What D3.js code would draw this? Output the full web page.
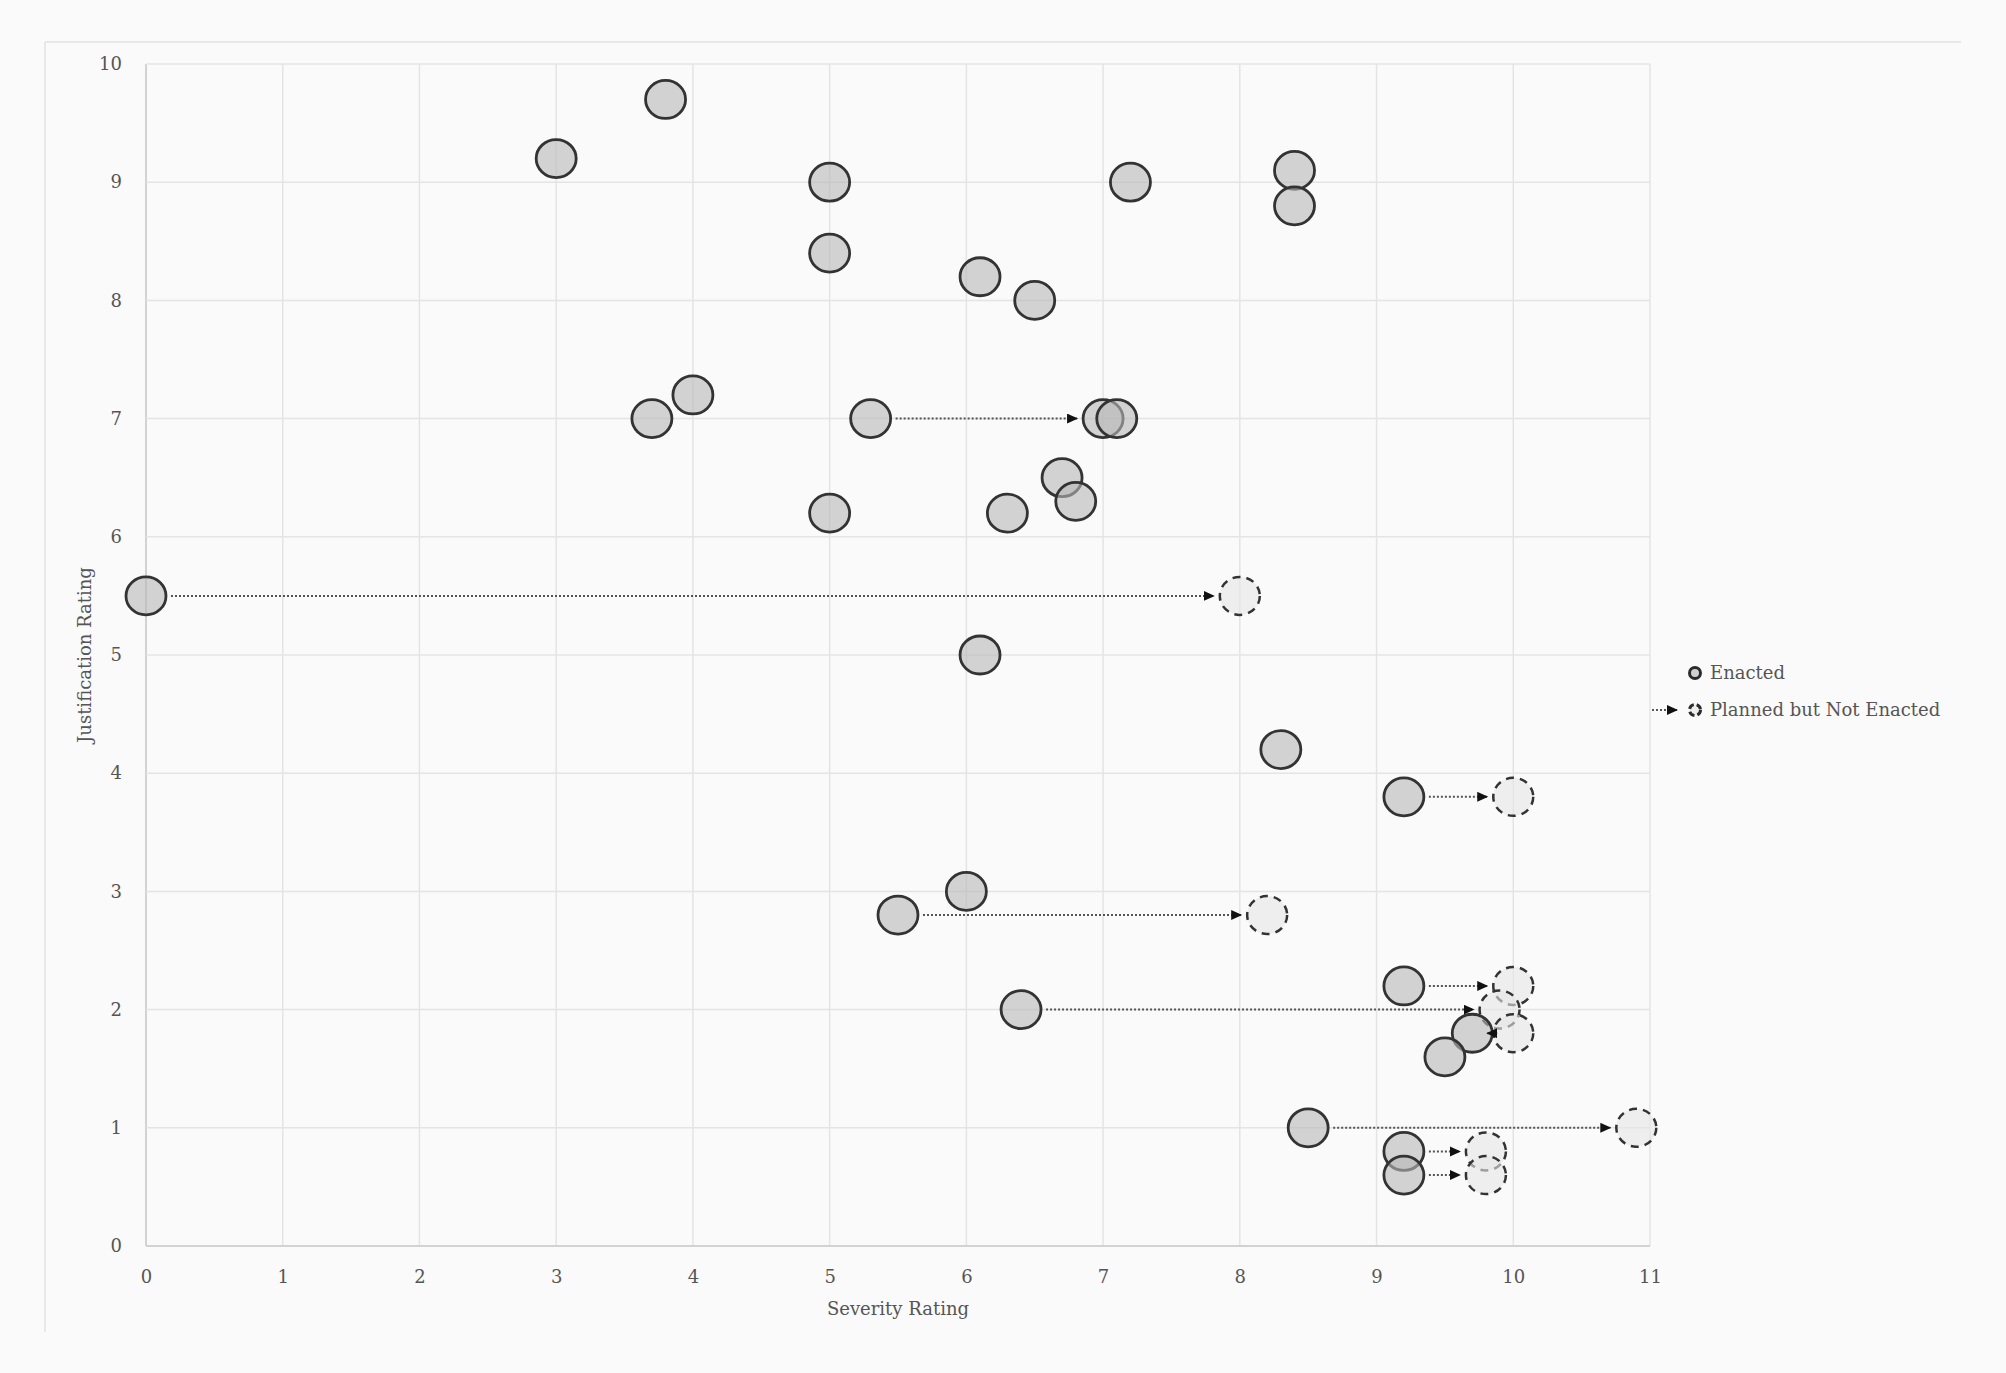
<!DOCTYPE html>
<html lang="en">
<head>
<meta charset="UTF-8">
<title>Severity vs Justification</title>
<script src="https://d3js.org/d3.v7.min.js"></script>
<style>
  body { margin: 0; background: #fafafa; }
  text { font-family: "DejaVu Serif", "Liberation Serif", serif; }
</style>
</head>
<body>
<div class="canvas"></div>
<script>
  // enacted measures
  const severity = [3.8, 3.0, 5.0, 7.2, 8.4, 8.4, 5.0, 6.1, 6.5, 4.0, 3.7, 5.3, 7.0, 7.1, 6.7, 6.8, 5.0, 6.3,
                    0.0, 6.1, 8.3, 9.2, 6.0, 5.5, 9.2, 6.4, 9.7, 9.5, 8.5, 9.2, 9.2]
  const justification = [9.7, 9.2, 9.0, 9.0, 9.1, 8.8, 8.4, 8.2, 8.0, 7.2, 7.0, 7.0, 7.0, 7.0, 6.5, 6.3, 6.2, 6.2,
                         5.5, 5.0, 4.2, 3.8, 3.0, 2.8, 2.2, 2.0, 1.8, 1.6, 1.0, 0.8, 0.6]

  // planned but not enacted
  const plannedSeverity = [8.0, 10.0, 8.2, 10.0, 9.9, 10.0, 10.9, 9.8, 9.8]
  const plannedJustification = [5.5, 3.8, 2.8, 2.2, 2.0, 1.8, 1.0, 0.8, 0.6]

  // arrows: from enacted position to planned position
  const arrowFrom = [0.0, 9.2, 5.5, 9.2, 6.4, 9.7, 8.5, 9.2, 9.2, 5.3]
  const arrowTo = [8.0, 10.0, 8.2, 10.0, 9.9, 10.0, 10.9, 9.8, 9.8, 7.0]
  const arrowY = [5.5, 3.8, 2.8, 2.2, 2.0, 1.8, 1.0, 0.8, 0.6, 7.0]

  const xTicks = d3.range(0, 12)
  const yTicks = d3.range(0, 11)

  const W = 2006, H = 1373
  const svg = d3.select('.canvas')
    .append('svg')
    .attr('width', W)
    .attr('height', H)

  const x = d3.scaleLinear().domain([0, 11]).range([146, 1650])
  const y = d3.scaleLinear().domain([0, 10]).range([1246, 64])
  const rx = 20, ry = 19

  // outer frame (top and left only)
  svg.append('line').attr('x1', 45).attr('x2', 1961).attr('y1', 42).attr('y2', 42)
    .attr('stroke', '#e2e2e2').attr('stroke-width', 1.5)
  svg.append('line').attr('x1', 45).attr('x2', 45).attr('y1', 42).attr('y2', 1332)
    .attr('stroke', '#e2e2e2').attr('stroke-width', 1.5)

  // grid
  const grid = svg.append('g')
  grid.selectAll('.gx').data(xTicks).enter().append('line')
    .attr('x1', d => x(d)).attr('x2', d => x(d))
    .attr('y1', y(10)).attr('y2', y(0))
    .attr('stroke', d => d === 0 ? '#d2d2d2' : '#e4e4e4')
    .attr('stroke-width', d => d === 0 ? 2 : 1.5)
  grid.selectAll('.gy').data(yTicks).enter().append('line')
    .attr('x1', x(0)).attr('x2', x(11))
    .attr('y1', d => y(d)).attr('y2', d => y(d))
    .attr('stroke', d => d === 0 ? '#d2d2d2' : '#e4e4e4')
    .attr('stroke-width', d => d === 0 ? 2 : 1.5)

  // axes (labels only)
  const xAxis = svg.append('g')
    .attr('transform', `translate(0, ${y(0)})`)
    .call(d3.axisBottom(x).tickValues(xTicks).tickSize(0).tickPadding(24).tickFormat(d3.format('d')))
  const yAxis = svg.append('g')
    .attr('transform', `translate(${x(0)}, 0)`)
    .call(d3.axisLeft(y).tickValues(yTicks).tickSize(0).tickPadding(24).tickFormat(d3.format('d')))
  ;[xAxis, yAxis].forEach(a => {
    a.select('.domain').remove()
    a.selectAll('text').attr('fill', '#555').style('font-size', '18px')
      .style('font-family', '"DejaVu Serif", serif')
  })

  // axis titles
  svg.append('text')
    .attr('x', (x(0) + x(11)) / 2).attr('y', 1315)
    .attr('text-anchor', 'middle')
    .attr('fill', '#555').style('font-size', '18px')
    .text('Severity Rating')
  svg.append('text')
    .attr('transform', `translate(91, ${(y(0) + y(10)) / 2}) rotate(-90)`)
    .attr('text-anchor', 'middle')
    .attr('fill', '#555').style('font-size', '18px')
    .text('Justification Rating')

  // arrow head
  svg.append('defs').append('marker')
    .attr('id', 'head')
    .attr('markerUnits', 'userSpaceOnUse')
    .attr('markerWidth', 12).attr('markerHeight', 12)
    .attr('refX', 10).attr('refY', 5)
    .attr('orient', 'auto')
    .append('path')
    .attr('d', 'M0,0 L11,5 L0,10 Z')
    .attr('fill', '#111')

  // planned circles
  svg.append('g').selectAll('ellipse')
    .data(plannedSeverity.map((d, i) => [d, plannedJustification[i]]))
    .enter().append('ellipse')
    .attr('cx', d => x(d[0])).attr('cy', d => y(d[1]))
    .attr('rx', rx).attr('ry', ry)
    .attr('fill', '#e6e6e6').attr('fill-opacity', 0.6)
    .attr('stroke', '#333').attr('stroke-width', 2.5)
    .attr('stroke-dasharray', '8,6')

  // enacted circles
  svg.append('g').selectAll('ellipse')
    .data(severity.map((d, i) => [d, justification[i]]))
    .enter().append('ellipse')
    .attr('cx', d => x(d[0])).attr('cy', d => y(d[1]))
    .attr('rx', rx).attr('ry', ry)
    .attr('fill', '#b8b8b8').attr('fill-opacity', 0.6)
    .attr('stroke', '#333').attr('stroke-width', 2.8)

  // arrows
  svg.append('g').selectAll('line')
    .data(arrowFrom.map((d, i) => [d, arrowTo[i], arrowY[i]]))
    .enter().append('line')
    .attr('x1', d => x(d[0]) + rx + 5)
    .attr('x2', d => x(d[1]) - rx - 6)
    .attr('y1', d => y(d[2])).attr('y2', d => y(d[2]))
    .attr('stroke', '#555').attr('stroke-width', 2)
    .attr('stroke-dasharray', '2,2')
    .attr('marker-end', 'url(#head)')

  // legend
  const lg = svg.append('g')
  lg.append('circle').attr('cx', 1695).attr('cy', 673).attr('r', 5.5)
    .attr('fill', '#d0d0d0').attr('stroke', '#2b2b2b').attr('stroke-width', 3)
  lg.append('text').attr('x', 1710).attr('y', 679)
    .attr('fill', '#555').style('font-size', '18px').text('Enacted')
  lg.append('line').attr('x1', 1652).attr('x2', 1677).attr('y1', 710).attr('y2', 710)
    .attr('stroke', '#555').attr('stroke-width', 2).attr('stroke-dasharray', '2,2')
    .attr('marker-end', 'url(#head)')
  lg.append('circle').attr('cx', 1695).attr('cy', 710).attr('r', 5.5)
    .attr('fill', '#eee').attr('stroke', '#2b2b2b').attr('stroke-width', 3)
    .attr('stroke-dasharray', '6,3')
  lg.append('text').attr('x', 1710).attr('y', 716)
    .attr('fill', '#555').style('font-size', '18px').text('Planned but Not Enacted')
</script>
</body>
</html>
